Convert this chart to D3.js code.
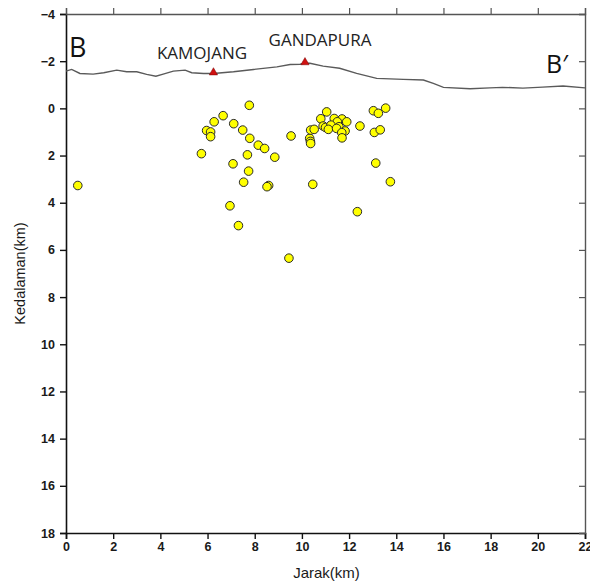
<!DOCTYPE html>
<html><head><meta charset="utf-8">
<script src="https://cdn.jsdelivr.net/npm/d3@7"></script>
<style>body{margin:0;background:#fff}</style>
</head><body><div id="chart"></div>
<script>
// Topography profile (distance km, elevation as depth km; negative = above sea level)
const topoDist = [0,0.24,0.59,1.15,1.6,2.15,2.57,3.0,3.42,3.81,4.12,4.55,5.05,5.33,5.83,6.25,7.1,7.95,8.94,9.5,9.92,10.13,10.34,10.9,11.6,12.32,13.17,14.3,15.15,15.57,16.0,17.13,17.97,18.5,19.37,20.2,21.07,22];
const topoDepth = [-1.58,-1.65,-1.48,-1.45,-1.51,-1.62,-1.55,-1.55,-1.44,-1.36,-1.45,-1.58,-1.62,-1.51,-1.48,-1.48,-1.55,-1.65,-1.76,-1.86,-1.87,-1.91,-1.91,-1.79,-1.7,-1.48,-1.27,-1.23,-1.2,-1.06,-0.89,-0.83,-0.87,-0.89,-0.86,-0.9,-0.95,-0.87];

// Volcano markers
const volcanoNames = ["KAMOJANG","GANDAPURA"];
const volcanoDist = [6.25,10.13];
const volcanoDepth = [-1.52,-1.95];

// Hypocenters
const quakeDist = [0.5,5.74,5.96,6.13,6.13,6.28,6.66,7.11,7.77,7.49,7.79,8.15,8.42,8.85,7.69,7.08,7.74,7.53,8.59,8.52,6.95,7.31,9.45,9.54,10.33,10.36,10.37,10.37,10.52,10.46,11.05,10.8,11.37,11.7,11.5,11.9,10.9,11.0,11.23,11.57,11.12,11.47,11.83,11.69,11.7,12.46,13.03,13.24,13.55,13.07,13.32,13.13,13.75,12.35];
const quakeDepth = [3.27,1.92,0.94,1.0,1.2,0.57,0.31,0.65,-0.13,0.92,1.27,1.56,1.7,2.07,1.97,2.35,2.66,3.13,3.27,3.32,4.13,4.97,6.35,1.17,1.27,1.4,1.49,0.92,0.89,3.22,0.15,0.44,0.43,0.45,0.57,0.57,0.75,0.81,0.71,0.78,0.89,0.85,0.96,1.03,1.25,0.75,0.1,0.21,-0.01,1.02,0.91,2.32,3.11,4.38];

const xTicks = [0,2,4,6,8,10,12,14,16,18,20,22];
const yTicks = [-4,-2,0,2,4,6,8,10,12,14,16,18];
const sectionLabels = ["B","B\u2032"];

const W = 590, H = 584;
const m = {l:66, t:14, r:5, b:51};
const svg = d3.select("#chart").append("svg").attr("width",W).attr("height",H);

const x = d3.scaleLinear().domain([0,22]).range([m.l, W-m.r]);
const y = d3.scaleLinear().domain([-4,18]).range([m.t, H-m.b]);

// Axes
const tickFont = "bold 12.5px 'Liberation Sans', Arial, sans-serif";
const gB = svg.append("g").attr("transform",`translate(0,${y(18)})`)
  .call(d3.axisBottom(x).tickValues(xTicks).tickSize(6).tickPadding(3).tickFormat(d3.format("d")));
const gL = svg.append("g").attr("transform",`translate(${x(0)},0)`)
  .call(d3.axisLeft(y).tickValues(yTicks).tickSize(6).tickPadding(5).tickFormat(d3.format("d")));
const gT = svg.append("g").attr("transform",`translate(0,${y(-4)})`)
  .call(d3.axisTop(x).tickValues(xTicks).tickSize(6).tickFormat(""));
const gR = svg.append("g").attr("transform",`translate(${x(22)},0)`)
  .call(d3.axisLeft(y).tickValues(yTicks).tickSize(6).tickFormat(""));
[gB,gL].forEach(g=>{
  g.select(".domain").attr("stroke","#111").attr("stroke-width",1.6);
  g.selectAll(".tick line").attr("stroke","#111").attr("stroke-width",1.4);
  g.selectAll(".tick text").style("font",tickFont).attr("fill","#1a1a1a");
});
[gT,gR].forEach(g=>{
  g.select(".domain").attr("stroke","#555").attr("stroke-width",1.4);
  g.selectAll(".tick line").attr("stroke","#555").attr("stroke-width",1.2);
});

// Axis titles
svg.append("text").attr("x",(x(0)+x(22))/2 + 1).attr("y",H-6).attr("text-anchor","middle")
  .style("font","15px 'Liberation Sans', Arial, sans-serif").attr("fill","#1a1a1a").text("Jarak(km)");
svg.append("text").attr("transform",`translate(25,${(y(-4)+y(18))/2}) rotate(-90)`).attr("text-anchor","middle")
  .style("font","14.5px 'Liberation Sans', Arial, sans-serif").attr("fill","#1a1a1a").text("Kedalaman(km)");

// Topography
const topo = topoDist.map((d,i)=>[d,topoDepth[i]]);
svg.append("path").datum(topo)
  .attr("d", d3.line().x(d=>x(d[0])).y(d=>y(d[1])).curve(d3.curveLinear))
  .attr("fill","none").attr("stroke","#5a5a5a").attr("stroke-width",1.4);

// Volcano triangles
svg.selectAll(".volc").data(volcanoDist).join("path")
  .attr("transform",(d,i)=>`translate(${x(d)},${y(volcanoDepth[i])})`)
  .attr("d", d3.symbol().type(d3.symbolTriangle).size(30))
  .attr("fill","#d01010").attr("stroke","#700").attr("stroke-width",0.5);

// Volcano labels
const labFont = "17px 'Open Sans', 'Noto Sans', sans-serif";
svg.append("text").attr("x",202).attr("y",59).attr("text-anchor","middle").style("font",labFont).attr("fill","#222").text(volcanoNames[0]);
svg.append("text").attr("x",320).attr("y",46).attr("text-anchor","middle").style("font",labFont).attr("fill","#222").text(volcanoNames[1]);

// Section labels
svg.append("text").attr("x",69).attr("y",57).style("font","27px 'Open Sans', 'Noto Sans', sans-serif").attr("fill","#111").text(sectionLabels[0]);
svg.append("text").attr("x",546).attr("y",73).style("font","25px 'Open Sans', 'Noto Sans', sans-serif").attr("fill","#111").text(sectionLabels[1]);

// Hypocenters
svg.selectAll(".eq").data(quakeDist.map((d,i)=>[d,quakeDepth[i]])).join("circle")
  .attr("cx",d=>x(d[0])).attr("cy",d=>y(d[1])).attr("r",4.3)
  .attr("fill","#ffff00").attr("stroke","#2a2a2a").attr("stroke-width",1);
</script></body></html>
